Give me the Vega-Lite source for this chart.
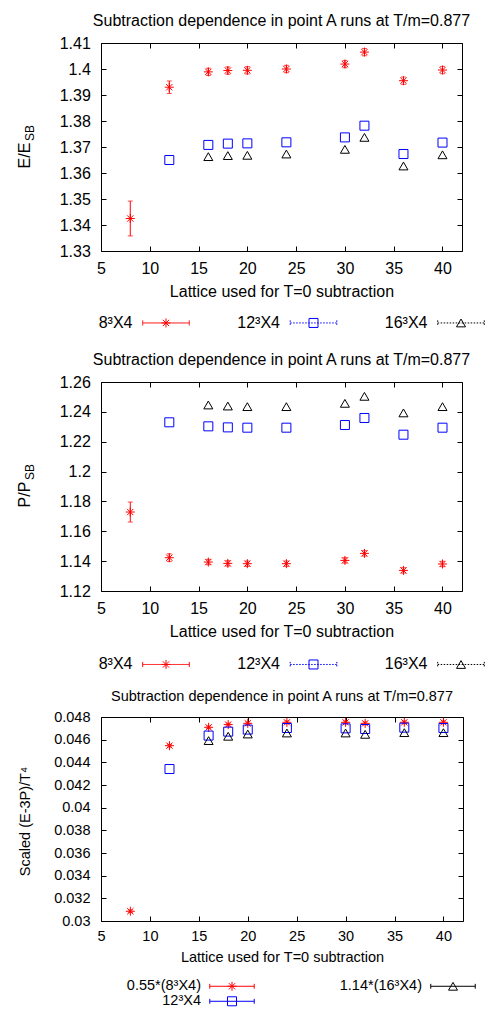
{
  "$schema": "https://vega.github.io/schema/vega-lite/v6.json",
  "padding": {"top": 12, "left": 16, "right": 0, "bottom": 0},
  "spacing": 0,
  "config": {
    "font": "Liberation Sans",
    "view": {"stroke": "black", "strokeWidth": 1},
    "axis": {"grid": false, "domain": false, "tickColor": "black", "tickSize": -5, "tickWidth": 1, "labelColor": "black", "titleColor": "black", "labelFont": "Liberation Sans", "titleFont": "Liberation Sans", "titleFontWeight": "normal", "labelFlush": false, "labelOverlap": false},
    "title": {"font": "Liberation Sans", "fontWeight": "normal", "color": "black", "frame": "group", "anchor": "middle"},
    "text": {"font": "Liberation Sans", "color": "black"},
    "concat": {"spacing": 0}
  },
  "datasets": {
    "p1": [
      {"x": 8, "s": "8", "v": 1.3425}, {"x": 12, "s": "8", "v": 1.3930}, {"x": 16, "s": "8", "v": 1.3989}, {"x": 18, "s": "8", "v": 1.3994}, {"x": 20, "s": "8", "v": 1.3995}, {"x": 24, "s": "8", "v": 1.4000}, {"x": 30, "s": "8", "v": 1.4019}, {"x": 32, "s": "8", "v": 1.4065}, {"x": 36, "s": "8", "v": 1.3955}, {"x": 40, "s": "8", "v": 1.3996},
      {"x": 12, "s": "12", "v": 1.3650}, {"x": 16, "s": "12", "v": 1.3708}, {"x": 18, "s": "12", "v": 1.3713}, {"x": 20, "s": "12", "v": 1.3714}, {"x": 24, "s": "12", "v": 1.3718}, {"x": 30, "s": "12", "v": 1.3737}, {"x": 32, "s": "12", "v": 1.3782}, {"x": 36, "s": "12", "v": 1.3673}, {"x": 40, "s": "12", "v": 1.3717},
      {"x": 16, "s": "16", "v": 1.3663}, {"x": 18, "s": "16", "v": 1.3667}, {"x": 20, "s": "16", "v": 1.3668}, {"x": 24, "s": "16", "v": 1.3673}, {"x": 30, "s": "16", "v": 1.3691}, {"x": 32, "s": "16", "v": 1.3737}, {"x": 36, "s": "16", "v": 1.3627}, {"x": 40, "s": "16", "v": 1.3670}
    ],
    "e1": [
      {"x": 8, "lo": 1.3358, "hi": 1.3492}, {"x": 12, "lo": 1.3906, "hi": 1.3954}, {"x": 16, "lo": 1.3975, "hi": 1.4003}, {"x": 18, "lo": 1.3980, "hi": 1.4008}, {"x": 20, "lo": 1.3981, "hi": 1.4009}, {"x": 24, "lo": 1.3986, "hi": 1.4014}, {"x": 30, "lo": 1.4005, "hi": 1.4033}, {"x": 32, "lo": 1.4051, "hi": 1.4079}, {"x": 36, "lo": 1.3941, "hi": 1.3969}, {"x": 40, "lo": 1.3982, "hi": 1.4010}
    ],
    "p2": [
      {"x": 8, "s": "8", "v": 1.1729}, {"x": 12, "s": "8", "v": 1.1423}, {"x": 16, "s": "8", "v": 1.1394}, {"x": 18, "s": "8", "v": 1.1385}, {"x": 20, "s": "8", "v": 1.1383}, {"x": 24, "s": "8", "v": 1.1383}, {"x": 30, "s": "8", "v": 1.1405}, {"x": 32, "s": "8", "v": 1.1452}, {"x": 36, "s": "8", "v": 1.1338}, {"x": 40, "s": "8", "v": 1.1381},
      {"x": 12, "s": "12", "v": 1.2330}, {"x": 16, "s": "12", "v": 1.2303}, {"x": 18, "s": "12", "v": 1.2296}, {"x": 20, "s": "12", "v": 1.2294}, {"x": 24, "s": "12", "v": 1.2294}, {"x": 30, "s": "12", "v": 1.2312}, {"x": 32, "s": "12", "v": 1.2359}, {"x": 36, "s": "12", "v": 1.2247}, {"x": 40, "s": "12", "v": 1.2294},
      {"x": 16, "s": "16", "v": 1.2446}, {"x": 18, "s": "16", "v": 1.2439}, {"x": 20, "s": "16", "v": 1.2435}, {"x": 24, "s": "16", "v": 1.2435}, {"x": 30, "s": "16", "v": 1.2457}, {"x": 32, "s": "16", "v": 1.2504}, {"x": 36, "s": "16", "v": 1.2393}, {"x": 40, "s": "16", "v": 1.2435}
    ],
    "e2": [
      {"x": 8, "lo": 1.1662, "hi": 1.1796}, {"x": 12, "lo": 1.1397, "hi": 1.1449}, {"x": 16, "lo": 1.1376, "hi": 1.1412}, {"x": 18, "lo": 1.1367, "hi": 1.1403}, {"x": 20, "lo": 1.1365, "hi": 1.1401}, {"x": 24, "lo": 1.1365, "hi": 1.1401}, {"x": 30, "lo": 1.1387, "hi": 1.1423}, {"x": 32, "lo": 1.1434, "hi": 1.1470}, {"x": 36, "lo": 1.1320, "hi": 1.1356}, {"x": 40, "lo": 1.1363, "hi": 1.1399}
    ],
    "p3": [
      {"x": 8, "s": "8", "v": 0.03086}, {"x": 12, "s": "8", "v": 0.04547}, {"x": 16, "s": "8", "v": 0.04709}, {"x": 18, "s": "8", "v": 0.04733}, {"x": 20, "s": "8", "v": 0.04744}, {"x": 24, "s": "8", "v": 0.04753}, {"x": 30, "s": "8", "v": 0.04753}, {"x": 32, "s": "8", "v": 0.04744}, {"x": 36, "s": "8", "v": 0.04753}, {"x": 40, "s": "8", "v": 0.04753},
      {"x": 12, "s": "12", "v": 0.04341}, {"x": 16, "s": "12", "v": 0.04636}, {"x": 18, "s": "12", "v": 0.04671}, {"x": 20, "s": "12", "v": 0.04689}, {"x": 24, "s": "12", "v": 0.04703}, {"x": 30, "s": "12", "v": 0.04700}, {"x": 32, "s": "12", "v": 0.04694}, {"x": 36, "s": "12", "v": 0.04706}, {"x": 40, "s": "12", "v": 0.04703},
      {"x": 16, "s": "16", "v": 0.04592}, {"x": 18, "s": "16", "v": 0.04630}, {"x": 20, "s": "16", "v": 0.04650}, {"x": 24, "s": "16", "v": 0.04659}, {"x": 30, "s": "16", "v": 0.04659}, {"x": 32, "s": "16", "v": 0.04647}, {"x": 36, "s": "16", "v": 0.04662}, {"x": 40, "s": "16", "v": 0.04662}
    ],
    "e3": [
      {"x": 8, "lo": 0.03074, "hi": 0.03098}, {"x": 12, "lo": 0.04535, "hi": 0.04559}, {"x": 16, "lo": 0.04697, "hi": 0.04721}, {"x": 18, "lo": 0.04721, "hi": 0.04745}, {"x": 20, "lo": 0.04732, "hi": 0.04756}, {"x": 24, "lo": 0.04741, "hi": 0.04765}, {"x": 30, "lo": 0.04741, "hi": 0.04765}, {"x": 32, "lo": 0.04732, "hi": 0.04756}, {"x": 36, "lo": 0.04741, "hi": 0.04765}, {"x": 40, "lo": 0.04741, "hi": 0.04765}
    ],
    "leg12": [
      {"s": "8", "r": "1", "label": "8³X4"}, {"s": "12", "r": "1", "label": "12³X4"}, {"s": "16", "r": "1", "label": "16³X4"}
    ],
    "leg3": [
      {"s": "8", "c": "L", "r": "1", "label": "0.55*(8³X4)"}, {"s": "12", "c": "L", "r": "2", "label": "12³X4"}, {"s": "16", "c": "R", "r": "1", "label": "1.14*(16³X4)"}
    ]
  },
  "vconcat": [
    {
      "width": 361, "height": 208,
      "title": {"text": "Subtraction dependence in point A runs at T/m=0.877", "fontSize": 16, "offset": 6},
      "layer": [
        {"data": {"name": "e1"}, "mark": {"type": "rule", "color": "#ff0000", "strokeWidth": 1},
         "encoding": {
           "x": {"field": "x", "type": "quantitative", "scale": {"domain": [5, 42], "nice": false, "zero": false}, "axis": {"orient": "top", "labels": false, "title": null, "values": [5, 10, 15, 20, 25, 30, 35, 40]}},
           "y": {"field": "lo", "type": "quantitative", "scale": {"domain": [1.33, 1.41], "nice": false, "zero": false}, "axis": {"orient": "right", "labels": false, "title": null, "values": [1.33, 1.34, 1.35, 1.36, 1.37, 1.38, 1.39, 1.40, 1.41]}},
           "y2": {"field": "hi"}
         }},
        {"data": {"name": "e1"}, "mark": {"type": "tick", "color": "#ff0000", "orient": "horizontal", "size": 5, "thickness": 1},
         "encoding": {"x": {"field": "x", "type": "quantitative", "axis": null}, "y": {"field": "lo", "type": "quantitative", "axis": null}}},
        {"data": {"name": "e1"}, "mark": {"type": "tick", "color": "#ff0000", "orient": "horizontal", "size": 5, "thickness": 1},
         "encoding": {"x": {"field": "x", "type": "quantitative", "axis": null}, "y": {"field": "hi", "type": "quantitative", "axis": null}}},
        {"data": {"name": "p1"}, "mark": {"type": "point", "filled": false, "strokeWidth": 1, "opacity": 1},
         "encoding": {
           "x": {"field": "x", "type": "quantitative", "axis": {"orient": "bottom", "values": [5, 10, 15, 20, 25, 30, 35, 40], "format": "d", "title": "Lattice used for T=0 subtraction", "titleFontSize": 16, "titleY": 45, "titleBaseline": "alphabetic", "labelFontSize": 16, "labelPadding": 14}},
           "y": {"field": "v", "type": "quantitative", "axis": {"orient": "left", "values": [1.33, 1.34, 1.35, 1.36, 1.37, 1.38, 1.39, 1.40, 1.41], "format": "~g", "title": "E/E", "titleFontSize": 16, "titleX": -71.5, "titleY": 112, "titleBaseline": "alphabetic", "titleAlign": "center", "titleAngle": 270, "labelFontSize": 16, "labelPadding": 15.7}},
           "color": {"field": "s", "type": "nominal", "scale": {"domain": ["8", "12", "16"], "range": ["#ff0000", "#0000ff", "#000000"]}, "legend": null},
           "shape": {"field": "s", "type": "nominal", "scale": {"domain": ["8", "12", "16"], "range": ["M-1,0L1,0M0,-1L0,1M-0.7,-0.7L0.7,0.7M-0.7,0.7L0.7,-0.7", "square", "triangle-up"]}, "legend": null},
           "size": {"field": "s", "type": "nominal", "scale": {"domain": ["8", "12", "16"], "range": [81, 81, 70]}, "legend": null}
         }},
        {"data": {"values": [{}]}, "mark": {"type": "text", "text": "SB", "angle": 270, "fontSize": 12, "baseline": "alphabetic", "align": "center"},
         "encoding": {"x": {"datum": -1.836, "type": "quantitative", "axis": null}, "y": {"datum": 1.3754, "type": "quantitative", "axis": null}}}
      ],
      "resolve": {"axis": {"x": "independent", "y": "independent"}}
    },
    {
      "width": 361, "height": 51, "view": {"stroke": null},
      "data": {"name": "leg12"},
      "encoding": {
        "x": {"field": "s", "type": "nominal", "scale": {"type": "point", "domain": ["8", "12", "16"], "range": [65, 360], "padding": 0}, "axis": null},
        "y": {"field": "r", "type": "nominal", "scale": {"type": "point", "domain": ["1"], "align": 0.45}, "axis": null}
      },
      "layer": [
        {"mark": {"type": "text", "align": "right", "baseline": "middle", "dx": -33.5, "fontSize": 16}, "encoding": {"text": {"field": "label"}}},
        {"mark": {"type": "point", "filled": false, "strokeWidth": 1, "opacity": 1, "shape": "M-1,0L1,0M-1,-0.11L-1,0.11M1,-0.11L1,0.11", "size": 2172},
         "encoding": {
           "color": {"field": "s", "type": "nominal", "scale": {"domain": ["8", "12", "16"], "range": ["#ff0000", "#0000ff", "#000000"]}, "legend": null},
           "strokeDash": {"field": "s", "type": "nominal", "scale": {"domain": ["8", "12", "16"], "range": [[1, 0], [1.5, 1.5], [1.5, 1.5]]}, "legend": null}
         }},
        {"mark": {"type": "point", "filled": false, "strokeWidth": 1, "opacity": 1},
         "encoding": {
           "color": {"field": "s", "type": "nominal", "scale": {"domain": ["8", "12", "16"], "range": ["#ff0000", "#0000ff", "#000000"]}, "legend": null},
           "shape": {"field": "s", "type": "nominal", "scale": {"domain": ["8", "12", "16"], "range": ["M-1,0L1,0M0,-1L0,1M-0.7,-0.7L0.7,0.7M-0.7,0.7L0.7,-0.7", "square", "triangle-up"]}, "legend": null},
           "size": {"field": "s", "type": "nominal", "scale": {"domain": ["8", "12", "16"], "range": [81, 81, 70]}, "legend": null}
         }}
      ]
    },
    {
      "width": 361, "height": 209,
      "title": {"text": "Subtraction dependence in point A runs at T/m=0.877", "fontSize": 16, "offset": 6},
      "layer": [
        {"data": {"name": "e2"}, "mark": {"type": "rule", "color": "#ff0000", "strokeWidth": 1},
         "encoding": {
           "x": {"field": "x", "type": "quantitative", "scale": {"domain": [5, 42], "nice": false, "zero": false}, "axis": {"orient": "top", "labels": false, "title": null, "values": [5, 10, 15, 20, 25, 30, 35, 40]}},
           "y": {"field": "lo", "type": "quantitative", "scale": {"domain": [1.12, 1.26], "nice": false, "zero": false}, "axis": {"orient": "right", "labels": false, "title": null, "values": [1.12, 1.14, 1.16, 1.18, 1.20, 1.22, 1.24, 1.26]}},
           "y2": {"field": "hi"}
         }},
        {"data": {"name": "e2"}, "mark": {"type": "tick", "color": "#ff0000", "orient": "horizontal", "size": 5, "thickness": 1},
         "encoding": {"x": {"field": "x", "type": "quantitative", "axis": null}, "y": {"field": "lo", "type": "quantitative", "axis": null}}},
        {"data": {"name": "e2"}, "mark": {"type": "tick", "color": "#ff0000", "orient": "horizontal", "size": 5, "thickness": 1},
         "encoding": {"x": {"field": "x", "type": "quantitative", "axis": null}, "y": {"field": "hi", "type": "quantitative", "axis": null}}},
        {"data": {"name": "p2"}, "mark": {"type": "point", "filled": false, "strokeWidth": 1, "opacity": 1},
         "encoding": {
           "x": {"field": "x", "type": "quantitative", "axis": {"orient": "bottom", "values": [5, 10, 15, 20, 25, 30, 35, 40], "format": "d", "title": "Lattice used for T=0 subtraction", "titleFontSize": 16, "titleY": 45, "titleBaseline": "alphabetic", "labelFontSize": 16, "labelPadding": 14}},
           "y": {"field": "v", "type": "quantitative", "axis": {"orient": "left", "values": [1.12, 1.14, 1.16, 1.18, 1.20, 1.22, 1.24, 1.26], "format": "~g", "title": "P/P", "titleFontSize": 16, "titleX": -71.5, "titleY": 112, "titleBaseline": "alphabetic", "titleAlign": "center", "titleAngle": 270, "labelFontSize": 16, "labelPadding": 15.7}},
           "color": {"field": "s", "type": "nominal", "scale": {"domain": ["8", "12", "16"], "range": ["#ff0000", "#0000ff", "#000000"]}, "legend": null},
           "shape": {"field": "s", "type": "nominal", "scale": {"domain": ["8", "12", "16"], "range": ["M-1,0L1,0M0,-1L0,1M-0.7,-0.7L0.7,0.7M-0.7,0.7L0.7,-0.7", "square", "triangle-up"]}, "legend": null},
           "size": {"field": "s", "type": "nominal", "scale": {"domain": ["8", "12", "16"], "range": [81, 81, 70]}, "legend": null}
         }},
        {"data": {"values": [{}]}, "mark": {"type": "text", "text": "SB", "angle": 270, "fontSize": 12, "baseline": "alphabetic", "align": "center"},
         "encoding": {"x": {"datum": -1.836, "type": "quantitative", "axis": null}, "y": {"datum": 1.1997, "type": "quantitative", "axis": null}}}
      ],
      "resolve": {"axis": {"x": "independent", "y": "independent"}}
    },
    {
      "width": 361, "height": 48, "view": {"stroke": null},
      "data": {"name": "leg12"},
      "encoding": {
        "x": {"field": "s", "type": "nominal", "scale": {"type": "point", "domain": ["8", "12", "16"], "range": [65, 360], "padding": 0}, "axis": null},
        "y": {"field": "r", "type": "nominal", "scale": {"type": "point", "domain": ["1"], "align": 0.51}, "axis": null}
      },
      "layer": [
        {"mark": {"type": "text", "align": "right", "baseline": "middle", "dx": -33.5, "fontSize": 16}, "encoding": {"text": {"field": "label"}}},
        {"mark": {"type": "point", "filled": false, "strokeWidth": 1, "opacity": 1, "shape": "M-1,0L1,0M-1,-0.11L-1,0.11M1,-0.11L1,0.11", "size": 2172},
         "encoding": {
           "color": {"field": "s", "type": "nominal", "scale": {"domain": ["8", "12", "16"], "range": ["#ff0000", "#0000ff", "#000000"]}, "legend": null},
           "strokeDash": {"field": "s", "type": "nominal", "scale": {"domain": ["8", "12", "16"], "range": [[1, 0], [1.5, 1.5], [1.5, 1.5]]}, "legend": null}
         }},
        {"mark": {"type": "point", "filled": false, "strokeWidth": 1, "opacity": 1},
         "encoding": {
           "color": {"field": "s", "type": "nominal", "scale": {"domain": ["8", "12", "16"], "range": ["#ff0000", "#0000ff", "#000000"]}, "legend": null},
           "shape": {"field": "s", "type": "nominal", "scale": {"domain": ["8", "12", "16"], "range": ["M-1,0L1,0M0,-1L0,1M-0.7,-0.7L0.7,0.7M-0.7,0.7L0.7,-0.7", "square", "triangle-up"]}, "legend": null},
           "size": {"field": "s", "type": "nominal", "scale": {"domain": ["8", "12", "16"], "range": [81, 81, 70]}, "legend": null}
         }}
      ]
    },
    {
      "width": 362, "height": 204,
      "title": {"text": "Subtraction dependence in point A runs at T/m=0.877", "fontSize": 14.5, "offset": 5},
      "layer": [
        {"data": {"name": "e3"}, "mark": {"type": "rule", "color": "#ff0000", "strokeWidth": 1},
         "encoding": {
           "x": {"field": "x", "type": "quantitative", "scale": {"domain": [5, 42], "nice": false, "zero": false}, "axis": {"orient": "top", "labels": false, "title": null, "values": [5, 10, 15, 20, 25, 30, 35, 40]}},
           "y": {"field": "lo", "type": "quantitative", "scale": {"domain": [0.03, 0.048], "nice": false, "zero": false}, "axis": {"orient": "right", "labels": false, "title": null, "values": [0.03, 0.032, 0.034, 0.036, 0.038, 0.04, 0.042, 0.044, 0.046, 0.048]}},
           "y2": {"field": "hi"}
         }},
        {"data": {"name": "e3"}, "mark": {"type": "tick", "color": "#ff0000", "orient": "horizontal", "size": 5, "thickness": 1},
         "encoding": {"x": {"field": "x", "type": "quantitative", "axis": null}, "y": {"field": "lo", "type": "quantitative", "axis": null}}},
        {"data": {"name": "e3"}, "mark": {"type": "tick", "color": "#ff0000", "orient": "horizontal", "size": 5, "thickness": 1},
         "encoding": {"x": {"field": "x", "type": "quantitative", "axis": null}, "y": {"field": "hi", "type": "quantitative", "axis": null}}},
        {"data": {"name": "p3"}, "mark": {"type": "point", "filled": false, "strokeWidth": 1, "opacity": 1},
         "encoding": {
           "x": {"field": "x", "type": "quantitative", "axis": {"orient": "bottom", "values": [5, 10, 15, 20, 25, 30, 35, 40], "format": "d", "title": "Lattice used for T=0 subtraction", "titleFontSize": 14.5, "titleY": 40.7, "titleBaseline": "alphabetic", "labelFontSize": 14.5, "labelPadding": 13}},
           "y": {"field": "v", "type": "quantitative", "axis": {"orient": "left", "values": [0.03, 0.032, 0.034, 0.036, 0.038, 0.04, 0.042, 0.044, 0.046, 0.048], "format": "~g", "title": "Scaled (E-3P)/T⁴", "titleFontSize": 14.5, "titleX": -71.5, "titleY": 104, "titleBaseline": "alphabetic", "titleAlign": "center", "titleAngle": 270, "labelFontSize": 14.5, "labelPadding": 16}},
           "color": {"field": "s", "type": "nominal", "scale": {"domain": ["8", "12", "16"], "range": ["#ff0000", "#0000ff", "#000000"]}, "legend": null},
           "shape": {"field": "s", "type": "nominal", "scale": {"domain": ["8", "12", "16"], "range": ["M-1,0L1,0M0,-1L0,1M-0.7,-0.7L0.7,0.7M-0.7,0.7L0.7,-0.7", "square", "triangle-up"]}, "legend": null},
           "size": {"field": "s", "type": "nominal", "scale": {"domain": ["8", "12", "16"], "range": [81, 81, 70]}, "legend": null}
         }}
      ],
      "resolve": {"axis": {"x": "independent", "y": "independent"}}
    },
    {
      "width": 362, "height": 43, "view": {"stroke": null},
      "data": {"name": "leg3"},
      "encoding": {
        "x": {"field": "c", "type": "nominal", "scale": {"type": "point", "domain": ["L", "R"], "range": [131, 352], "padding": 0}, "axis": null},
        "y": {"field": "r", "type": "nominal", "scale": {"type": "point", "domain": ["1", "2"], "padding": 0.933, "align": 0.76}, "axis": null}
      },
      "layer": [
        {"mark": {"type": "text", "align": "right", "baseline": "middle", "dx": -31, "fontSize": 14.5}, "encoding": {"text": {"field": "label"}}},
        {"mark": {"type": "point", "filled": false, "strokeWidth": 1, "opacity": 1, "shape": "M-1,0L1,0M-1,-0.11L-1,0.11M1,-0.11L1,0.11", "size": 1980},
         "encoding": {
           "color": {"field": "s", "type": "nominal", "scale": {"domain": ["8", "12", "16"], "range": ["#ff0000", "#0000ff", "#000000"]}, "legend": null}
         }},
        {"mark": {"type": "point", "filled": false, "strokeWidth": 1, "opacity": 1},
         "encoding": {
           "color": {"field": "s", "type": "nominal", "scale": {"domain": ["8", "12", "16"], "range": ["#ff0000", "#0000ff", "#000000"]}, "legend": null},
           "shape": {"field": "s", "type": "nominal", "scale": {"domain": ["8", "12", "16"], "range": ["M-1,0L1,0M0,-1L0,1M-0.7,-0.7L0.7,0.7M-0.7,0.7L0.7,-0.7", "square", "triangle-up"]}, "legend": null},
           "size": {"field": "s", "type": "nominal", "scale": {"domain": ["8", "12", "16"], "range": [81, 81, 70]}, "legend": null}
         }}
      ]
    }
  ]
}
